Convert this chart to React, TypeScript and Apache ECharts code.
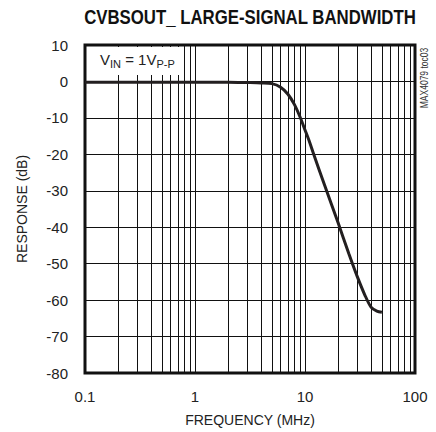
import React, { useEffect, useRef } from "react";
import * as echarts from "echarts";

const title = "CVBSOUT_ LARGE-SIGNAL BANDWIDTH";
const xAxisName = "FREQUENCY (MHz)";
const yAxisName = "RESPONSE (dB)";
const noteId = "MAX4079 toc03";

const freqMHz = [0.1, 1, 2, 3, 4, 5, 6, 7, 8, 9, 10, 11, 12, 15, 20, 25, 30, 35, 40, 45, 50];
const responseDb = [-0.2, -0.2, -0.2, -0.3, -0.4, -0.6, -1.6, -3.5, -6.3, -9.7, -13.3, -16.6, -20, -28.3, -38.8, -47.2, -53.7, -58.6, -62, -63, -63.3];

const yTicks = [10, 0, -10, -20, -30, -40, -50, -60, -70, -80];
const minorFreqs = [0.2, 0.3, 0.4, 0.5, 0.6, 0.7, 0.8, 0.9, 2, 3, 4, 5, 6, 7, 8, 9, 20, 30, 40, 50, 60, 70, 80, 90];

const FONT = "'Liberation Sans', Arial, sans-serif";

export default function App() {
  const ref = useRef<HTMLDivElement>(null);
  useEffect(() => {
    if (!ref.current) return;
    const chart = echarts.init(ref.current, undefined, { renderer: "svg" });
    chart.setOption({
      animation: false,
      backgroundColor: "#ffffff",
      grid: {
        left: 85,
        right: 21,
        top: 45,
        bottom: 58,
        show: true,
        borderColor: "#111",
        borderWidth: 3,
        backgroundColor: "transparent",
      },
      xAxis: {
        type: "log",
        logBase: 10,
        min: 0.1,
        max: 100,
        name: xAxisName,
        nameLocation: "middle",
        nameGap: 40,
        nameTextStyle: { fontFamily: FONT, fontSize: 14, color: "#222" },
        axisLine: { show: false },
        axisTick: { show: false },
        axisLabel: {
          fontFamily: FONT,
          fontSize: 15,
          color: "#222",
          margin: 16,
          formatter: (v: number) => String(v),
        },
        splitLine: { show: true, lineStyle: { color: "#111", width: 1 } },
      },
      yAxis: {
        type: "value",
        min: -80,
        max: 10,
        interval: 10,
        name: yAxisName,
        nameLocation: "middle",
        nameGap: 56,
        nameTextStyle: { fontFamily: FONT, fontSize: 14, color: "#222" },
        axisLine: { show: false },
        axisTick: { show: false },
        axisLabel: {
          fontFamily: FONT,
          fontSize: 15,
          color: "#222",
          margin: 17,
          formatter: (v: number) => (yTicks.includes(v) ? String(v) : ""),
        },
        splitLine: { show: true, lineStyle: { color: "#111", width: 1 } },
      },
      series: [
        {
          type: "line",
          data: freqMHz.map((f, i) => [f, responseDb[i]]),
          showSymbol: false,
          smooth: 0.3,
          lineStyle: { color: "#231f20", width: 3 },
          z: 5,
          markLine: {
            silent: true,
            symbol: "none",
            label: { show: false },
            lineStyle: { color: "#111", width: 1, type: "solid" },
            data: minorFreqs.map((f) => ({ xAxis: f })),
            z: 1,
          },
        },
      ],
      graphic: [
        {
          type: "text",
          z: 101,
          x: 250,
          y: 17,
          scaleX: 0.8,
          style: {
            text: title,
            fontFamily: FONT,
            fontWeight: "bold",
            fontSize: 21,
            fill: "#111",
            align: "center",
            verticalAlign: "middle",
          },
        },
        {
          type: "rect",
          z: 100,
          shape: { x: 87, y: 47, width: 95, height: 28 },
          style: { fill: "#ffffff" },
        },
        {
          type: "text",
          z: 101,
          x: 100,
          y: 52,
          style: {
            text: "{a|V}{s|IN}{a| = 1V}{s|P-P}",
            fill: "#222",
            rich: {
              a: { fontFamily: FONT, fontSize: 15, lineHeight: 15, verticalAlign: "top", fill: "#222" },
              s: { fontFamily: FONT, fontSize: 11, lineHeight: 11, padding: [6, 0, 0, 0], verticalAlign: "top", fill: "#222" },
            },
          },
        },
        {
          type: "text",
          z: 101,
          x: 425,
          y: 78,
          rotation: Math.PI / 2,
          scaleX: 0.85,
          style: {
            text: noteId,
            fontFamily: FONT,
            fontSize: 10,
            fill: "#333",
            align: "center",
            verticalAlign: "middle",
          },
        },
      ],
    });
    return () => chart.dispose();
  }, []);
  return <div ref={ref} style={{ position: "absolute", left: 0, top: 0, width: 436, height: 432 }} />;
}
